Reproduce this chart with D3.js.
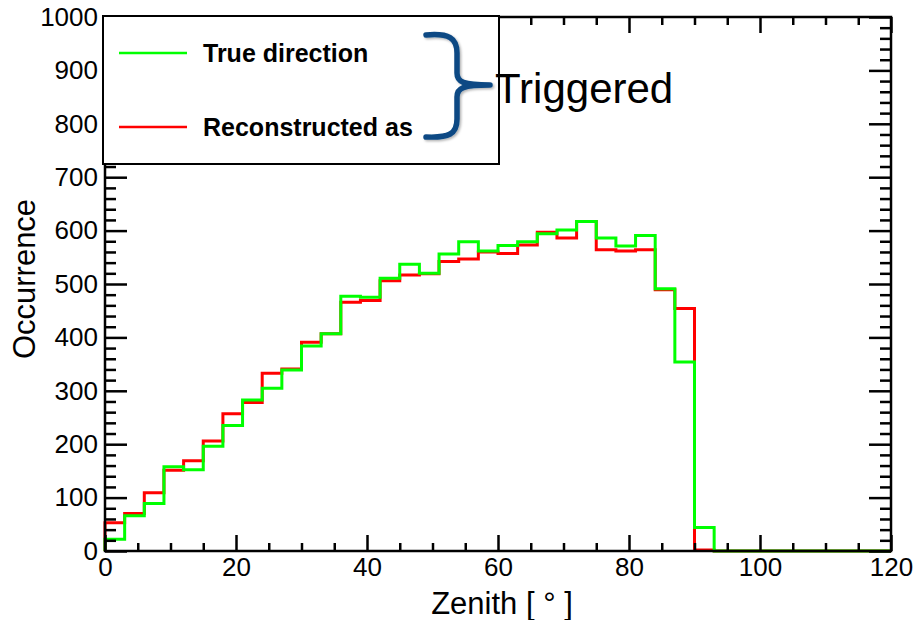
<!DOCTYPE html>
<html>
<head>
<meta charset="utf-8">
<script src="https://cdn.jsdelivr.net/npm/d3@7"></script>
<style>
  html, body { margin: 0; padding: 0; background: #fff; }
  svg { display: block; font-family: "Liberation Sans", Arial, Helvetica, sans-serif; }
</style>
</head>
<body>
<svg id="chart" width="915" height="620"></svg>
<script>
// Lower edges of the 3-degree zenith bins
const binLow = [0, 3, 6, 9, 12, 15, 18, 21, 24, 27, 30, 33, 36, 39, 42, 45, 48, 51, 54, 57,
                60, 63, 66, 69, 72, 75, 78, 81, 84, 87, 90, 93, 96, 99, 102, 105, 108, 111, 114, 117];
const binWidth = 3;

// Counts per bin: true zenith of triggered events
const trueDirection = [22, 66, 89, 158, 152, 196, 235, 283, 305, 339, 384, 407, 477, 475, 511, 537, 520, 556, 579, 562,
                       572, 579, 594, 601, 617, 586, 571, 591, 491, 354, 44, 0, 0, 0, 0, 0, 0, 0, 0, 0];
// Counts per bin: reconstructed zenith of triggered events
const reconstructed = [53, 70, 109, 151, 169, 206, 257, 278, 333, 341, 391, 407, 466, 469, 506, 517, 519, 542, 547, 560,
                       557, 573, 597, 586, 617, 564, 562, 564, 489, 454, 2, 0, 0, 0, 0, 0, 0, 0, 0, 0];

const xMajorTicks = [0, 20, 40, 60, 80, 100, 120];
const xMinorTicks = [5, 10, 15, 25, 30, 35, 45, 50, 55, 65, 70, 75, 85, 90, 95, 105, 110, 115];
const yMajorTicks = [0, 100, 200, 300, 400, 500, 600, 700, 800, 900, 1000];
const yMinorTicks = [20, 40, 60, 80, 120, 140, 160, 180, 220, 240, 260, 280, 320, 340, 360, 380,
                     420, 440, 460, 480, 520, 540, 560, 580, 620, 640, 660, 680, 720, 740, 760, 780,
                     820, 840, 860, 880, 920, 940, 960, 980];

const seriesNames = ["True direction", "Reconstructed as"];
const seriesColors = ["#00ff00", "#ff0000"];
const xTitle = "Zenith [ ° ]";
const yTitle = "Occurrence";
const bracketLabel = "Triggered";

const svg = d3.select("#chart");
const plot = { left: 105, right: 891, top: 17, bottom: 551 };

const x = d3.scaleLinear().domain([0, 120]).range([plot.left, plot.right]);
const y = d3.scaleLinear().domain([0, 1000]).range([plot.bottom, plot.top]);

// Step outline of a histogram, starting from the baseline
function stepPath(values) {
  const pts = [[x(binLow[0]), y(0)]];
  values.forEach((v, i) => {
    pts.push([x(binLow[i]), y(v)]);
    pts.push([x(binLow[i] + binWidth), y(v)]);
  });
  return d3.line()(pts);
}

// Histograms (reconstructed underneath, true on top)
svg.append("path").attr("d", stepPath(reconstructed))
  .attr("fill", "none").attr("stroke", seriesColors[1]).attr("stroke-width", 3);
svg.append("path").attr("d", stepPath(trueDirection))
  .attr("fill", "none").attr("stroke", seriesColors[0]).attr("stroke-width", 3);

// Axes with inward ticks, mirrored on top and right
const tickStroke = 2.5;
function styleAxis(g) {
  g.select(".domain").remove();
  g.selectAll(".tick line").attr("stroke", "#000").attr("stroke-width", tickStroke);
  g.selectAll(".tick text").attr("fill", "#000").attr("font-size", 26)
    .attr("font-family", "'Liberation Sans', Arial, sans-serif");
}

// bottom
svg.append("g").attr("transform", `translate(0,${plot.bottom})`)
  .call(d3.axisBottom(x).tickValues(xMinorTicks).tickSize(-8).tickFormat(""))
  .call(styleAxis);
svg.append("g").attr("transform", `translate(0,${plot.bottom})`)
  .call(d3.axisBottom(x).tickValues(xMajorTicks).tickSize(-16).tickPadding(7).tickFormat(d3.format("d")))
  .call(styleAxis);
// top
svg.append("g").attr("transform", `translate(0,${plot.top})`)
  .call(d3.axisTop(x).tickValues(xMinorTicks).tickSize(-8).tickFormat(""))
  .call(styleAxis);
svg.append("g").attr("transform", `translate(0,${plot.top})`)
  .call(d3.axisTop(x).tickValues(xMajorTicks).tickSize(-16).tickFormat(""))
  .call(styleAxis);
// left
svg.append("g").attr("transform", `translate(${plot.left},0)`)
  .call(d3.axisLeft(y).tickValues(yMinorTicks).tickSize(-11).tickFormat(""))
  .call(styleAxis);
svg.append("g").attr("transform", `translate(${plot.left},0)`)
  .call(d3.axisLeft(y).tickValues(yMajorTicks).tickSize(-22).tickPadding(7).tickFormat(d3.format("d")))
  .call(styleAxis);
// right
svg.append("g").attr("transform", `translate(${plot.right},0)`)
  .call(d3.axisRight(y).tickValues(yMinorTicks).tickSize(-11).tickFormat(""))
  .call(styleAxis);
svg.append("g").attr("transform", `translate(${plot.right},0)`)
  .call(d3.axisRight(y).tickValues(yMajorTicks).tickSize(-22).tickFormat(""))
  .call(styleAxis);

// Frame
svg.append("rect")
  .attr("x", plot.left).attr("y", plot.top)
  .attr("width", plot.right - plot.left).attr("height", plot.bottom - plot.top)
  .attr("fill", "none").attr("stroke", "#000").attr("stroke-width", 2.5);

// Axis titles
svg.append("text").attr("x", 502).attr("y", 614)
  .attr("text-anchor", "middle").attr("font-size", 31).attr("fill", "#000").text(xTitle);
svg.append("text").attr("transform", "translate(35,279) rotate(-90)")
  .attr("text-anchor", "middle").attr("font-size", 31).attr("fill", "#000").text(yTitle);

// Legend
const legend = svg.append("g");
legend.append("rect").attr("x", 103).attr("y", 16).attr("width", 396).attr("height", 148)
  .attr("fill", "#fff").attr("stroke", "#000").attr("stroke-width", 2);
const legendRows = [53, 127];
seriesNames.forEach((name, i) => {
  legend.append("line").attr("x1", 119).attr("x2", 187)
    .attr("y1", legendRows[i]).attr("y2", legendRows[i])
    .attr("stroke", seriesColors[i]).attr("stroke-width", 2.5);
  legend.append("text").attr("x", 203).attr("y", legendRows[i] + 9)
    .attr("font-size", 25).attr("font-weight", "bold").attr("fill", "#000").text(name);
});

// Brace grouping the two entries
const defs = svg.append("defs");
const shadow = defs.append("filter").attr("id", "braceShadow")
  .attr("x", "-20%").attr("y", "-20%").attr("width", "140%").attr("height", "140%");
shadow.append("feDropShadow").attr("dx", 1.5).attr("dy", 1.5).attr("stdDeviation", 1.2)
  .attr("flood-color", "#000").attr("flood-opacity", 0.3);

const bracePath = d3.path();
bracePath.moveTo(426, 35);
bracePath.bezierCurveTo(449, 33, 457, 38, 457, 53);
bracePath.lineTo(457, 73);
bracePath.bezierCurveTo(457, 82, 463, 85, 490, 85);
bracePath.moveTo(490, 85);
bracePath.bezierCurveTo(463, 85, 457, 88, 457, 97);
bracePath.lineTo(457, 119);
bracePath.bezierCurveTo(457, 134, 449, 138, 426, 137);
svg.append("path").attr("d", bracePath.toString())
  .attr("fill", "none").attr("stroke", "#0c4a84").attr("stroke-width", 5.5)
  .attr("stroke-linecap", "round").attr("stroke-linejoin", "round")
  .attr("filter", "url(#braceShadow)");

svg.append("text").attr("x", 495).attr("y", 103)
  .attr("font-size", 42).attr("fill", "#000").text(bracketLabel);
</script>
</body>
</html>
